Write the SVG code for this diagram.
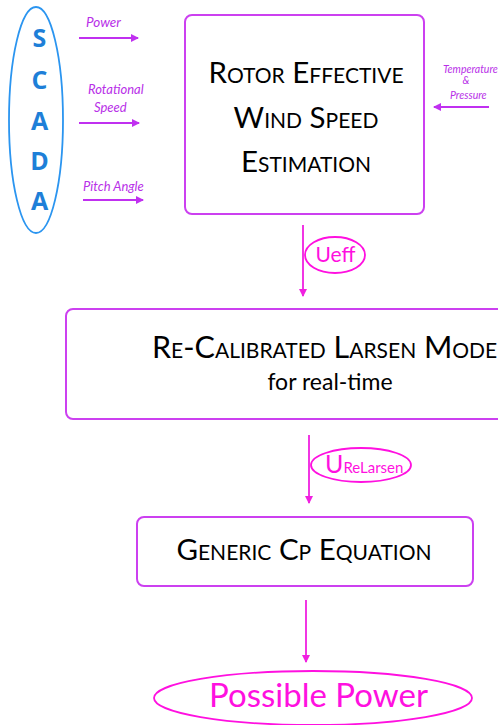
<svg xmlns="http://www.w3.org/2000/svg" width="498" height="725" viewBox="0 0 498 725">
<defs>
<marker id="ap" markerWidth="8" markerHeight="8" refX="7" refY="4" orient="auto" markerUnits="userSpaceOnUse"><path d="M0,0 L8,4 L0,8 Z" fill="#C030F0"/></marker>
<marker id="am" markerWidth="8" markerHeight="8" refX="7" refY="4" orient="auto" markerUnits="userSpaceOnUse"><path d="M0,0 L8,4 L0,8 Z" fill="#F020E0"/></marker>
<style>
.box{fill:#fff;stroke:#CC40F0;stroke-width:2}
.t{font-family:Lato,"Open Sans",sans-serif;fill:#000;font-variant:small-caps;text-anchor:middle}
.lbl{font-family:Lato,"Open Sans",sans-serif;font-style:italic;fill:#B830E8}
.scada{font-family:"Open Sans",Lato,sans-serif;font-weight:bold;fill:#1E7FD8;font-size:25px;text-anchor:middle}
.in{stroke:#C030F0;stroke-width:1.8;fill:none;marker-end:url(#ap)}
.dn{stroke:#F020E0;stroke-width:1.8;fill:none;marker-end:url(#am)}
.mag{fill:#FF10E0;font-family:Lato,"Open Sans",sans-serif}
.ell{fill:#fff;stroke:#FF10E0;stroke-width:1.8}
</style>
</defs>
<rect width="498" height="725" fill="#fff"/>
<g id="scada">
<ellipse cx="36" cy="120" rx="27" ry="113" fill="none" stroke="#2B95F0" stroke-width="1.8"/>
<text class="scada" x="39.5" y="47">S</text>
<text class="scada" x="39.5" y="89">C</text>
<text class="scada" x="39.5" y="130">A</text>
<text class="scada" x="39.5" y="170">D</text>
<text class="scada" x="39.5" y="210">A</text>
</g>
<g id="rews">
<rect class="box" x="185" y="15" width="239" height="199" rx="7"/>
<text class="t" x="306" y="83" font-size="29.5">Rotor Effective</text>
<text class="t" x="306" y="128" font-size="29.5">Wind Speed</text>
<text class="t" x="306" y="172" font-size="29.5">Estimation</text>
</g>
<g id="larsen">
<rect class="box" x="66" y="309" width="530" height="110" rx="7"/>
<text class="t" x="330" y="358" font-size="30.5">Re-Calibrated Larsen Model</text>
<text x="330" y="390" font-family="Lato,'Open Sans',sans-serif" font-size="23" fill="#000" text-anchor="middle">for real-time</text>
</g>
<g id="cp">
<rect class="box" x="137" y="517" width="336" height="69" rx="7"/>
<text class="t" x="304" y="560" font-size="29.5">Generic Cp Equation</text>
</g>
<g id="possible">
<ellipse class="ell" cx="313" cy="698" rx="159" ry="27"/>
<text class="mag" x="318.5" y="707" font-size="33" text-anchor="middle">Possible Power</text>
</g>
<g id="connectors">
<text class="lbl" x="86" y="27" font-size="13.5">Power</text>
<line class="in" x1="79" y1="38" x2="138" y2="38"/>
<text class="lbl" x="88" y="94" font-size="13">Rotational</text>
<text class="lbl" x="94" y="112" font-size="13">Speed</text>
<line class="in" x1="79" y1="123" x2="139" y2="123"/>
<text class="lbl" x="83" y="191" font-size="13">Pitch Angle</text>
<line class="in" x1="83" y1="200" x2="143" y2="200"/>
<text class="lbl" x="443" y="73" font-size="10.5">Temperature</text>
<text class="lbl" x="466" y="84" font-size="10.5" text-anchor="middle">&amp;</text>
<text class="lbl" x="450" y="99" font-size="10.5">Pressure</text>
<line class="in" x1="489" y1="107" x2="434" y2="107"/>
<line class="dn" x1="303" y1="225" x2="303" y2="296"/>
<ellipse class="ell" cx="335" cy="255" rx="30" ry="18"/>
<text class="mag" x="335.5" y="262" font-size="21" text-anchor="middle">Ueff</text>
<line class="dn" x1="309" y1="435" x2="309" y2="503"/>
<ellipse class="ell" cx="361" cy="465" rx="50" ry="17"/>
<text class="mag" x="325" y="473" font-size="25">U<tspan font-size="15">ReLarsen</tspan></text>
<line class="dn" x1="306" y1="600" x2="306" y2="662"/>
</g>
</svg>
